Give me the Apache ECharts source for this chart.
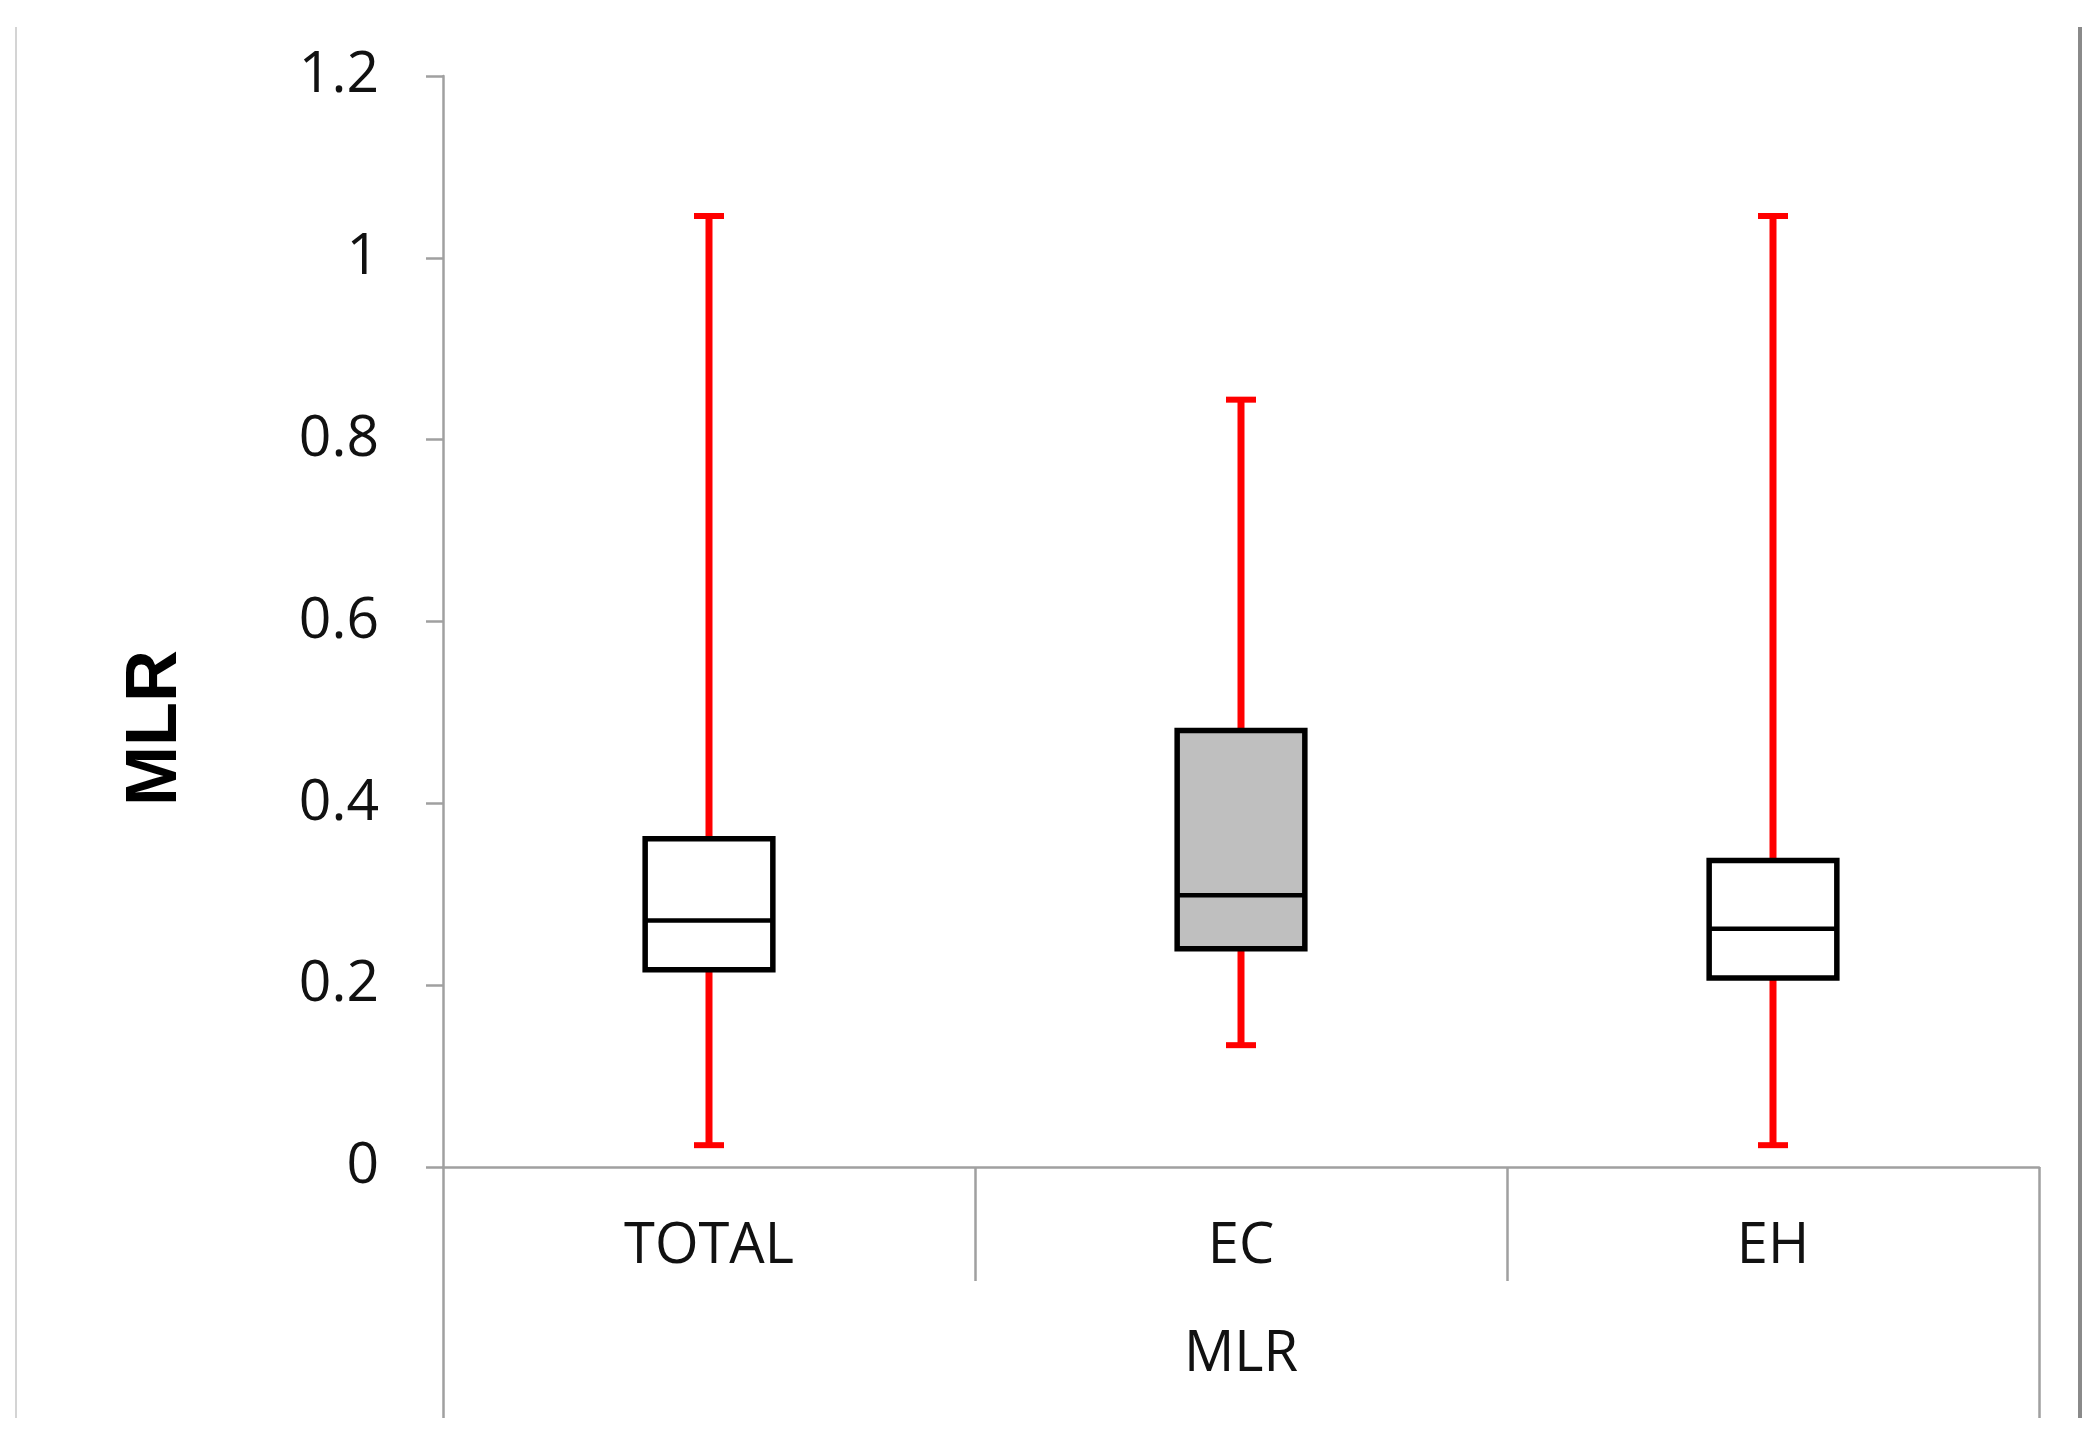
<!DOCTYPE html>
<html>
<head>
<meta charset="utf-8">
<script src="https://cdn.jsdelivr.net/npm/echarts@6/dist/echarts.min.js"></script>
<style>
html,body{margin:0;padding:0;background:#fff;}
#chart{width:2098px;height:1439px;}
</style>
</head>
<body>
<div id="chart"></div>
<script>
// ---- data ----
const categories = ['TOTAL', 'EC', 'EH'];
const groupLabels = ['MLR'];
const whiskerLow = [0.024, 0.134, 0.024];
const q1 = [0.217, 0.240, 0.208];
const medians = [0.271, 0.299, 0.262];
const q3 = [0.361, 0.480, 0.337];
const whiskerHigh = [1.046, 0.844, 1.046];
const yTicks = { min: 0, max: 1.2, interval: 0.2 };
const yTitle = 'MLR';

// ---- styles ----
const boxFills = ['#ffffff', '#bfbfbf', '#ffffff'];
const FONT = 'Open Sans';
const AXIS_GRAY = '#a0a0a0';

const seriesData = categories.map((c, i) => [i, whiskerLow[i], q1[i], medians[i], q3[i], whiskerHigh[i]]);

function renderItem(params, api) {
  const i = api.value(0);
  const x = api.coord([i, 0])[0];
  const band = api.size([1, 0])[0];
  const bw = band * 0.24;
  const capW = 30;
  const yLo = api.coord([i, api.value(1)])[1];
  const yQ1 = api.coord([i, api.value(2)])[1];
  const yMed = api.coord([i, api.value(3)])[1];
  const yQ3 = api.coord([i, api.value(4)])[1];
  const yHi = api.coord([i, api.value(5)])[1];
  const red = '#ff0000';
  return {
    type: 'group',
    children: [
      { type: 'line', shape: { x1: x, y1: yHi, x2: x, y2: yQ3 }, style: { stroke: red, lineWidth: 7 } },
      { type: 'line', shape: { x1: x, y1: yQ1, x2: x, y2: yLo }, style: { stroke: red, lineWidth: 7 } },
      { type: 'line', shape: { x1: x - capW / 2, y1: yHi, x2: x + capW / 2, y2: yHi }, style: { stroke: red, lineWidth: 6 } },
      { type: 'line', shape: { x1: x - capW / 2, y1: yLo, x2: x + capW / 2, y2: yLo }, style: { stroke: red, lineWidth: 6 } },
      { type: 'rect', shape: { x: x - bw / 2, y: yQ3, width: bw, height: yQ1 - yQ3 },
        style: { fill: boxFills[i], stroke: '#000', lineWidth: 5.5 } },
      { type: 'line', shape: { x1: x - bw / 2, y1: yMed, x2: x + bw / 2, y2: yMed }, style: { stroke: '#000', lineWidth: 4.5 } }
    ]
  };
}

const chart = echarts.init(document.getElementById('chart'), null, { renderer: 'canvas' });
chart.setOption({
  backgroundColor: '#ffffff',
  animation: false,
  grid: { left: 443, top: 76, width: 1596, height: 1091, containLabel: false },
  xAxis: [
    {
      type: 'category',
      data: categories,
      position: 'bottom',
      offset: 0,
      axisLine: { show: true, onZero: false, lineStyle: { color: AXIS_GRAY, width: 2.5 } },
      axisTick: { show: true, interval: 0, length: 114, lineStyle: { color: AXIS_GRAY, width: 2.5 } },
      axisLabel: { interval: 0, margin: 52, fontFamily: FONT, fontSize: 56, color: '#111', lineHeight: 56 },
      splitLine: { show: false }
    },
    {
      type: 'category',
      data: groupLabels,
      position: 'bottom',
      offset: 0,
      axisLine: { show: false },
      axisTick: { show: true, interval: 0, length: 251, lineStyle: { color: AXIS_GRAY, width: 2.5 } },
      axisLabel: { interval: 0, margin: 160, fontFamily: FONT, fontSize: 56, color: '#111', lineHeight: 56 },
      splitLine: { show: false }
    }
  ],
  yAxis: {
    type: 'value',
    min: yTicks.min,
    max: yTicks.max,
    interval: yTicks.interval,
    axisLine: { show: true, lineStyle: { color: AXIS_GRAY, width: 2.5 } },
    axisTick: { show: true, inside: false, length: 17, lineStyle: { color: AXIS_GRAY, width: 2.5 } },
    axisLabel: { margin: 64, fontFamily: FONT, fontSize: 57, color: '#111' },
    splitLine: { show: false }
  },
  graphic: [
    { type: 'line', shape: { x1: 16, y1: 27, x2: 16, y2: 1418 }, style: { stroke: '#d4d4d4', lineWidth: 2 } },
    { type: 'line', shape: { x1: 2080, y1: 27, x2: 2080, y2: 1418 }, style: { stroke: '#8a8a8a', lineWidth: 4 } },
    { type: 'text', x: 156, y: 728, rotation: Math.PI / 2,
      style: { text: yTitle, font: 'bold 72px "Liberation Sans", Arial, sans-serif', fill: '#000', align: 'center', verticalAlign: 'middle' } }
  ],
  series: [
    {
      type: 'custom',
      xAxisIndex: 0,
      yAxisIndex: 0,
      renderItem: renderItem,
      encode: { x: 0, y: [1, 2, 3, 4, 5] },
      data: seriesData,
      clip: false
    }
  ]
});
</script>
</body>
</html>
